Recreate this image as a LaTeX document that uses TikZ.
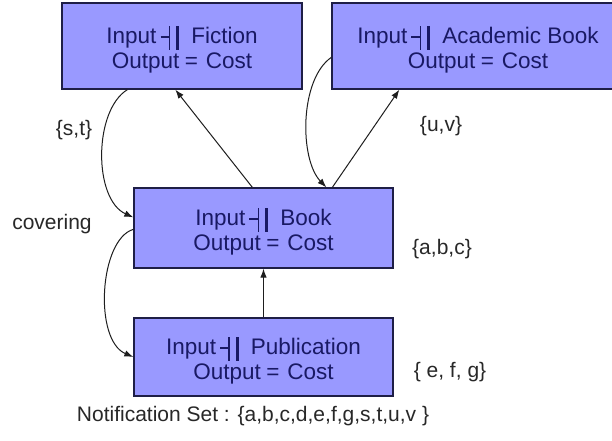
\documentclass[tikz,border=0pt]{standalone}
\usepackage{fontspec}
\setmainfont{Liberation Sans}
\usetikzlibrary{arrows.meta,calc}

\definecolor{boxfill}{RGB}{153,153,255}
\definecolor{boxline}{RGB}{30,30,70}
\definecolor{boxtext}{RGB}{25,25,100}
\definecolor{linecol}{RGB}{30,30,30}
\definecolor{tagcol}{RGB}{40,40,40}

% dash followed by a thin and a thick vertical bar
\newcommand{\tackbar}{\mbox{\rule[0.25em]{0.36em}{0.06em}\rule[-0.27em]{0.07em}{1.05em}\hspace{0.28em}\rule[-0.27em]{0.11em}{1.05em}}}
\newcommand{\modtext}[1]{Input\hspace{0.18em}\tackbar\hspace{0.55em}#1\\Output\hspace{0.25em}=\hspace{0.35em}Cost}

\begin{document}
\begin{tikzpicture}[x=1pt,y=-1pt,
  module/.style={draw=boxline, line width=1.3pt, fill=boxfill, inner sep=0pt},
  modtxt/.style={text=boxtext, inner sep=0pt, align=center, yshift=-3.5pt,
    font=\fontsize{22.5}{25}\selectfont},
  tag/.style={text=tagcol, inner sep=0pt, font=\fontsize{21}{24}\selectfont},
  flow/.style={draw=linecol, line width=1pt, -{Latex[length=9pt,width=6.5pt]}}
]
\clip (0,0) rectangle (612,440);
\fill[white] (0,0) rectangle (612,440);

% modules
\node[module, minimum width=240pt, minimum height=86pt] (fic) at (182,46) {};
\node[module, minimum width=292pt, minimum height=86pt] (aca) at (478,46) {};
\node[module, minimum width=259pt, minimum height=80pt] (book) at (263.5,228) {};
\node[module, minimum width=259pt, minimum height=78pt] (pub) at (263.5,357) {};

\node[modtxt] (fic-txt) at (fic.center) {\modtext{Fiction}};
\node[modtxt] (aca-txt) at (aca.center) {\modtext{Academic Book}};
\node[modtxt] (book-txt) at (book.center) {\modtext{Book}};
\node[modtxt] (pub-txt) at (pub.center) {\modtext{Publication}};

% straight connectors
\draw[flow] ($(book.north west)+(119,0)$) -- ($(fic.south west)+(114,0)$);
\draw[flow] ($(book.north west)+(199,0)$) -- ($(aca.south west)+(68,0)$);
\draw[flow] (pub.north) -- (book.south);

% curved connectors
\draw[flow] ($(aca.north west)+(0,55)$) .. controls +(-32,22) and +(-27,-28) .. ($(book.north west)+(193,0)$);
\draw[flow] ($(fic.south west)+(66,0)$) .. controls +(-34,21) and +(-40,-18) .. ($(book.north west)+(0,30)$);
\draw[flow] ($(book.north west)+(0,42)$) .. controls +(-34,10) and +(-40,-17) .. (pub.west);

% labels
\node[tag] (st) at (74,130) {\{s,t\}};
\node[tag] (cov) at (52,224) {covering};
\node[tag] (uv) at (441,126) {\{u,v\}};
\node[tag] (abc) at (442,249) {\{a,b,c\}};
\node[tag] (efg) at (450,372) {\{ e, f, g\}};
\node[tag] (nset) at (253,416) {Notification Set : \{a,b,c,d,e,f,g,s,t,u,v \}};
\end{tikzpicture}
\end{document}
